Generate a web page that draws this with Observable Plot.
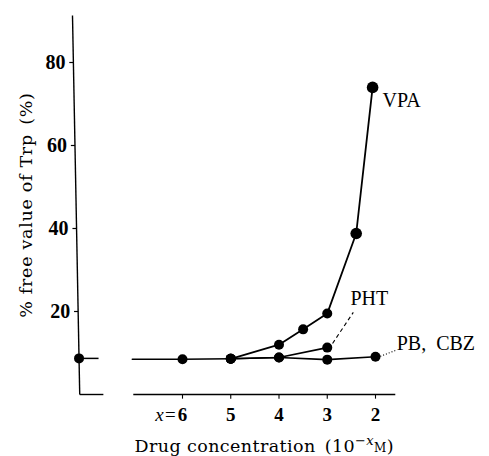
<!DOCTYPE html>
<html><head><meta charset="utf-8">
<script src="https://cdn.jsdelivr.net/npm/d3@7"></script>
<script src="https://cdn.jsdelivr.net/npm/@observablehq/plot@0.6"></script>
<style>body{margin:0;background:#fff}</style>
</head><body><div id="chart"></div>
<script>
// ---- data (x = exponent of drug concentration, 10^-x M) ----
const concVPA = [5, 4, 3.5, 3, 2.4, 2.06];
const freeVPA = [8.6, 12.0, 15.7, 19.5, 38.8, 74.0];
const concPHT = [5, 4, 3];
const freePHT = [8.6, 8.9, 11.3];
const concPB  = [5, 4, 3, 2];
const freePB  = [8.6, 8.9, 8.4, 9.1];
const concBase = [7.04, 6, 5];
const freeBase = [8.5, 8.5, 8.6];
const baseDots = [6, 5];
const controlFree = 8.7;
const controlStubEnd = 7.74;

const yTicks = [20, 40, 60, 80];
const xTicks = [6, 5, 4, 3, 2];
const xTickLabels = ["6", "5", "4", "3", "2"];
const yAxisLine = {x1: 8.13, y1: 0, x2: 8.28, y2: 91.3};
const xAxisSegments = [[8.13, 7.64], [7.02, 1.59]];

const seriesLabels = [
  {name: "VPA", x: 1.855, y: 70.8},
  {name: "PHT", x: 2.52, y: 23.1},
  {name: "PB,\u2002CBZ", x: 1.56, y: 12.3}
];
const phtLeader = [{x1: 2.89, y1: 12.3, x2: 2.46, y2: 19.8}];
const pbLeader = [{x1: 1.90, y1: 9.2, x2: 1.59, y2: 10.6}];
const yTitle = "% free value of Trp\u2002(%)";
const xTitle = "Drug concentration\u2002(10";

const axisXAt = v => yAxisLine.x1 + (yAxisLine.x2 - yAxisLine.x1) * v / yAxisLine.y2;
const controlX = axisXAt(controlFree);

const serif = "'DejaVu Serif', serif";
const tserif = "'Liberation Serif', 'Times New Roman', serif";

const chart = Plot.plot({
  width: 489, height: 456,
  marginLeft: 0, marginRight: 0, marginTop: 0, marginBottom: 0,
  x: {domain: [6, 2], range: [182, 375], axis: null},
  y: {domain: [0, 80], range: [394, 62], axis: null},
  style: {background: "#fff", color: "#000"},
  marks: [
    // y axis
    Plot.link([yAxisLine], {x1: "x1", y1: "y1", x2: "x2", y2: "y2", stroke: "#000", strokeWidth: 1.4}),
    Plot.link(yTicks, {x1: d => axisXAt(d), x2: d => axisXAt(d) + 0.085, y1: d => d, y2: d => d, stroke: "#000", strokeWidth: 1.2}),
    Plot.text(yTicks, {x: d => axisXAt(d), y: d => d, dx: -8, text: d => String(d), textAnchor: "end",
      fontFamily: tserif, fontSize: 20, fontWeight: "bold"}),
    // x axis (with break)
    Plot.link(xAxisSegments, {x1: d => d[0], x2: d => d[1], y1: 0, y2: 0, stroke: "#000", strokeWidth: 1.4}),
    Plot.link(xTicks, {x1: d => d, x2: d => d, y1: 0, y2: -1, stroke: "#000", strokeWidth: 1.1}),
    Plot.text(xTicks, {x: d => d, y: 0, dy: 20, text: (d, i) => xTickLabels[i],
      fontFamily: tserif, fontSize: 19, fontWeight: "bold"}),
    Plot.text([xTicks[0]], {x: d => d, y: 0, dy: 20, dx: -6, text: () => "x=", textAnchor: "end",
      fontFamily: tserif, fontSize: 19, fontStyle: "italic"}),
    // titles
    Plot.text([yTitle], {frameAnchor: "left", dx: 26, y: () => yAxisLine.y2 / 2, text: d => d, rotate: -90,
      textAnchor: "middle", fontFamily: serif, fontSize: 17.5, className: "ytitle"}),
    Plot.text([xTitle], {x: () => (xAxisSegments[1][0] + xAxisSegments[1][1]) / 2, y: 0, dy: 52, text: d => d,
      fontFamily: serif, fontSize: 17.5, className: "xtitle"}),
    // control
    Plot.link([controlStubEnd], {x1: () => controlX, x2: d => d, y1: controlFree, y2: controlFree, stroke: "#000", strokeWidth: 1.5}),
    Plot.dot([controlFree], {x: () => controlX, y: d => d, r: 5, fill: "#000"}),
    // series lines
    Plot.line(concBase, {x: d => d, y: (d, i) => freeBase[i], stroke: "#000", strokeWidth: 1.6}),
    Plot.line(concPB, {x: d => d, y: (d, i) => freePB[i], stroke: "#000", strokeWidth: 1.6}),
    Plot.line(concPHT, {x: d => d, y: (d, i) => freePHT[i], stroke: "#000", strokeWidth: 1.6}),
    Plot.line(concVPA, {x: d => d, y: (d, i) => freeVPA[i], stroke: "#000", strokeWidth: 1.8}),
    // dots
    Plot.dot(baseDots, {x: d => d, y: (d, i) => freeBase[i + 1], r: 5, fill: "#000"}),
    Plot.dot(concPB, {x: d => d, y: (d, i) => freePB[i], r: 5, fill: "#000"}),
    Plot.dot(concPHT, {x: d => d, y: (d, i) => freePHT[i], r: 5, fill: "#000"}),
    Plot.dot(concVPA.slice(0, 4), {x: d => d, y: (d, i) => freeVPA[i], r: 5, fill: "#000"}),
    Plot.dot(concVPA.slice(4), {x: d => d, y: (d, i) => freeVPA[i + 4], r: 5.8, fill: "#000"}),
    // leaders and labels
    Plot.link(phtLeader, {x1: "x1", y1: "y1", x2: "x2", y2: "y2", stroke: "#000", strokeWidth: 1.1, strokeDasharray: "4,3"}),
    Plot.link(pbLeader, {x1: "x1", y1: "y1", x2: "x2", y2: "y2", stroke: "#000", strokeWidth: 1.1, strokeDasharray: "1,2"}),
    Plot.text(seriesLabels, {x: "x", y: "y", text: "name", textAnchor: "start",
      fontFamily: tserif, fontSize: 20})
  ]
});

// letter spacing for titles
d3.select(chart).selectAll("g.ytitle text").attr("letter-spacing", 0.7);
d3.select(chart).selectAll("g.xtitle text").attr("letter-spacing", 0.4);
// superscript / subscript parts of the x title
d3.select(chart).selectAll("text").filter(function() { return this.textContent === xTitle; })
  .each(function() {
    const t = d3.select(this);
    t.append("tspan").attr("dy", -7).attr("font-size", 13).text("\u2212");
    t.append("tspan").attr("font-size", 13).attr("font-style", "italic").text("x");
    t.append("tspan").attr("dy", 7).attr("font-size", 12).text("M");
    t.append("tspan").text(")");
  });
document.getElementById("chart").appendChild(chart);
</script>
</body></html>
